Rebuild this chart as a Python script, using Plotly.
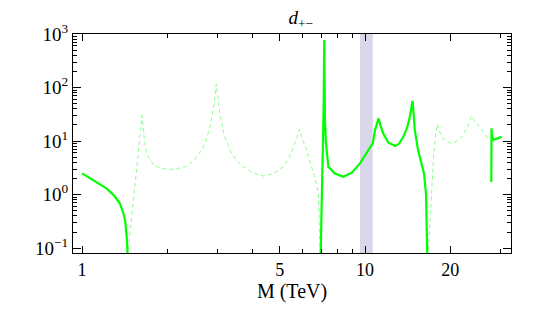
import plotly.graph_objects as go

# Solid segments (positive values)
m_solid1 = [1.0, 1.1, 1.22, 1.3, 1.36, 1.40, 1.42, 1.44, 1.45]
d_solid1 = [2.5, 1.85, 1.31, 0.95, 0.69, 0.45, 0.33, 0.15, 0.07]

m_solid2 = [6.97, 7.05, 7.10, 7.14, 7.18, 7.20, 7.22, 7.27, 7.32, 7.42, 7.52, 7.8, 8.38,
            9.0, 9.6, 10.0, 10.4, 10.65, 10.85, 11.17, 11.4, 11.6, 12.1, 12.8, 13.2,
            13.66, 14.1, 14.4, 14.73, 15.0, 15.4, 15.8, 16.16, 16.43, 16.6]
d_solid2 = [0.07, 1.0, 5.0, 40.0, 775.0, 80.0, 24.5, 10.0, 5.9, 3.3, 3.1, 2.5, 2.15,
            2.6, 3.83, 5.3, 7.3, 9.06, 16.0, 26.5, 18.0, 13.8, 9.3, 8.07, 9.0,
            12.0, 18.0, 28.4, 56.6, 16.0, 6.8, 4.2, 2.49, 1.05, 0.07]

m_solid3 = [27.95, 28.0, 28.1, 28.4, 29.0, 30.4]
d_solid3 = [1.73, 17.3, 13.0, 10.6, 11.0, 12.0]

# Dashed segments (negative values, shown as magnitude)
m_dash1 = [1.45, 1.50, 1.55, 1.60, 1.63, 1.66, 1.69, 1.79, 1.90, 2.02, 2.15, 2.34, 2.5,
           2.65, 2.75, 2.83, 2.93, 2.98, 3.02, 3.07, 3.18, 3.33, 3.5, 3.72, 4.0, 4.37,
           4.75, 5.14, 5.4, 5.58, 5.75, 5.86, 6.0, 6.22, 6.45, 6.66, 6.84, 6.95]
d_dash1 = [0.07, 0.42, 2.3, 13.0, 30.0, 11.0, 5.9, 3.56, 3.1, 2.96, 3.0, 3.41, 4.5,
           6.8, 10.5, 18.5, 50.0, 116.0, 60.0, 33.0, 13.0, 6.8, 4.5, 3.3, 2.6, 2.22,
           2.5, 3.3, 5.0, 7.8, 11.5, 16.6, 11.0, 6.8, 3.6, 2.0, 1.05, 0.07]

m_dash2 = [16.7, 17.0, 17.5, 17.8, 18.0, 18.4, 18.9, 19.5, 20.2, 21.0, 22.0, 23.0,
           23.8, 24.5, 25.5, 26.5, 27.3]
d_dash2 = [0.07, 0.33, 5.9, 14.0, 20.8, 14.5, 11.2, 9.8, 9.06, 9.8, 12.0, 18.0,
           29.3, 23.0, 18.5, 13.5, 10.5]

band_lo, band_hi = 9.6, 10.65

x_major = [1, 5, 10, 20]
x_major_text = ["1", "5", "10", "20"]
x_minor = [2, 3, 4, 6, 7, 8, 9, 30]
y_major = [0.1, 1, 10, 100, 1000]
y_major_text = ["10<sup>−1</sup>", "10<sup>0</sup>", "10<sup>1</sup>", "10<sup>2</sup>", "10<sup>3</sup>"]
y_minor = [k * 10 ** e for e in (-1, 0, 1, 2) for k in range(2, 10)]

solid_color = "#00ff00"
dash_color = "#8cff8c"
FAM = "Liberation Serif"

fig = go.Figure()
for mx, dy in [(m_dash1, d_dash1), (m_dash2, d_dash2)]:
    fig.add_trace(go.Scatter(x=mx, y=dy, mode="lines",
                             line=dict(color=dash_color, width=1, dash="4px,3px"),
                             showlegend=False, hoverinfo="skip"))
for mx, dy in [(m_solid1, d_solid1), (m_solid2, d_solid2), (m_solid3, d_solid3)]:
    fig.add_trace(go.Scatter(x=mx, y=dy, mode="lines",
                             line=dict(color=solid_color, width=2.2),
                             showlegend=False, hoverinfo="skip"))

fig.add_shape(type="rect", xref="x", yref="paper", x0=band_lo, x1=band_hi, y0=0, y1=1,
              fillcolor="rgb(216,216,234)", line=dict(width=0), layer="below")

fig.update_layout(
    width=537, height=305,
    margin=dict(l=65, r=34, t=26, b=60),
    paper_bgcolor="white", plot_bgcolor="white",
    font=dict(family=FAM, size=18, color="black"),
    title=dict(text="<i>d</i><sub>+−</sub>", x=0.545, xanchor="center",
               y=0.99, yref="container", yanchor="top", pad=dict(t=0, b=0),
               font=dict(family=FAM, size=19, color="black")),
    xaxis=dict(type="log", range=[-0.032, 1.516],
               tickmode="array", tickvals=x_major, ticktext=x_major_text,
               ticks="inside", ticklen=7, tickwidth=1.2, tickcolor="black",
               minor=dict(tickmode="array", tickvals=x_minor, ticks="inside",
                          ticklen=4, tickwidth=1, tickcolor="black"),
               showline=True, linecolor="black", linewidth=1.3, mirror="ticks",
               showgrid=False, zeroline=False,
               title=dict(text="M (TeV)", standoff=5,
                          font=dict(family=FAM, size=20, color="black")),
               tickfont=dict(family=FAM, size=18, color="black")),
    yaxis=dict(type="log", range=[-1.09, 3.0],
               tickmode="array", tickvals=y_major, ticktext=y_major_text,
               ticks="inside", ticklen=8, tickwidth=1.2, tickcolor="black",
               minor=dict(tickmode="array", tickvals=y_minor, ticks="inside",
                          ticklen=4, tickwidth=1, tickcolor="black"),
               showline=True, linecolor="black", linewidth=1.3, mirror="ticks",
               showgrid=False, zeroline=False,
               tickfont=dict(family=FAM, size=19, color="black")),
)

fig.write_html("out.html")
